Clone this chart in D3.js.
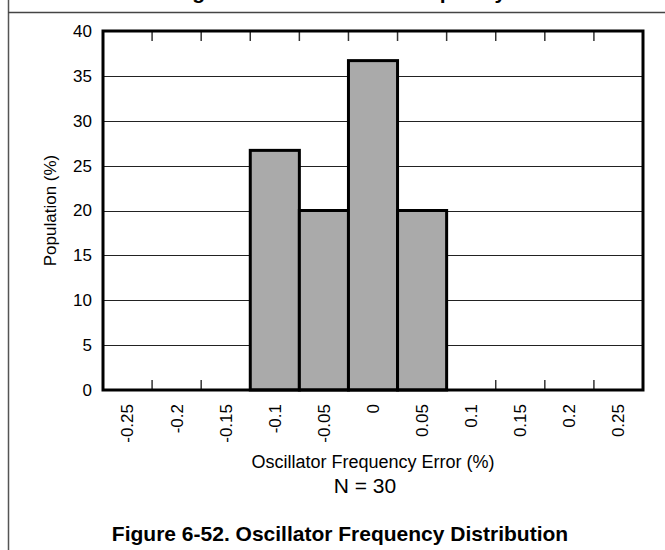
<!DOCTYPE html>
<html>
<head>
<meta charset="utf-8">
<script src="https://cdn.jsdelivr.net/npm/d3@7"></script>
<style>
  html, body { margin: 0; padding: 0; background: #fff; }
  svg { display: block; }
  text { font-family: "Liberation Sans", Arial, Helvetica, sans-serif; fill: #000; }
</style>
</head>
<body>
<svg id="chart" width="665" height="550"></svg>
<script>
// ---- data ----
const categories = ["-0.25", "-0.2", "-0.15", "-0.1", "-0.05", "0", "0.05", "0.1", "0.15", "0.2", "0.25"];
const population = [0, 0, 0, 26.7, 20, 36.7, 20, 0, 0, 0, 0];
const yTicks = [0, 5, 10, 15, 20, 25, 30, 35, 40];
const xTitle = "Oscillator Frequency Error (%)";
const yTitle = "Population (%)";
const note = "N = 30";
const caption = "Figure 6-52. Oscillator Frequency Distribution";
const prevCaption = "Figure 6-51. Oscillator Frequency";

// ---- layout ----
const svg = d3.select("#chart");
const plot = { left: 103, right: 643, top: 31, bottom: 390 };

const x = d3.scaleBand().domain(categories).range([plot.left, plot.right]).padding(0);
const y = d3.scaleLinear().domain([0, 40]).range([plot.bottom, plot.top]);

// outer frame lines (cell border)
svg.append("line").attr("x1", 8.5).attr("x2", 8.5).attr("y1", 0).attr("y2", 550)
  .attr("stroke", "#555").attr("stroke-width", 1.5);
svg.append("line").attr("x1", 8).attr("x2", 665).attr("y1", 12.5).attr("y2", 12.5)
  .attr("stroke", "#444").attr("stroke-width", 1.5);

// clipped previous caption (only descenders visible)
svg.append("text").attr("x", 340).attr("y", -1).attr("text-anchor", "middle")
  .style("font-size", "21px").style("font-weight", "bold").text(prevCaption);

// gridlines
svg.append("g").selectAll("line").data(yTicks.filter(d => d > 0 && d < 40)).join("line")
  .attr("x1", plot.left).attr("x2", plot.right)
  .attr("y1", d => Math.round(y(d)) + 0.5).attr("y2", d => Math.round(y(d)) + 0.5)
  .attr("stroke", "#222").attr("stroke-width", 1);

// x ticks at bin boundaries (top and bottom, inward)
const boundaries = categories.slice(1);
const tickG = svg.append("g");
tickG.selectAll("line.tb").data(boundaries).join("line").attr("class", "tb")
  .attr("x1", d => x(d)).attr("x2", d => x(d))
  .attr("y1", plot.bottom).attr("y2", plot.bottom - 10)
  .attr("stroke", "#333").attr("stroke-width", 1.5);
tickG.selectAll("line.tt").data(boundaries).join("line").attr("class", "tt")
  .attr("x1", d => x(d)).attr("x2", d => x(d))
  .attr("y1", plot.top).attr("y2", plot.top + 10)
  .attr("stroke", "#333").attr("stroke-width", 1.5);

// bars
svg.append("g").selectAll("rect").data(categories.map((c, i) => ({ c, v: population[i] })).filter(d => d.v > 0))
  .join("rect")
  .attr("x", d => x(d.c)).attr("width", x.bandwidth())
  .attr("y", d => y(d.v)).attr("height", d => y(0) - y(d.v))
  .attr("fill", "#aaaaaa").attr("stroke", "#000").attr("stroke-width", 3);

// plot frame
svg.append("rect").attr("x", plot.left).attr("y", plot.top)
  .attr("width", plot.right - plot.left).attr("height", plot.bottom - plot.top)
  .attr("fill", "none").attr("stroke", "#000").attr("stroke-width", 3);

// y axis labels
const yAxis = svg.append("g").attr("transform", `translate(${plot.left},0)`)
  .call(d3.axisLeft(y).tickValues(yTicks).tickSize(0).tickPadding(11).tickFormat(d3.format("d")));
yAxis.select(".domain").remove();
yAxis.selectAll("text").style("font-size", "17px")
  .style("font-family", "'Liberation Sans', Arial, sans-serif").attr("fill", "#000");

// x labels (rotated)
svg.append("g").selectAll("text").data(categories).join("text")
  .attr("transform", d => `translate(${x(d) + x.bandwidth() / 2},404) rotate(-90)`)
  .attr("text-anchor", "end").attr("dy", "0.35em")
  .style("font-size", "17px").text(d => d);

// axis titles
svg.append("text").attr("x", (plot.left + plot.right) / 2).attr("y", 468)
  .attr("text-anchor", "middle").style("font-size", "18px").text(xTitle);
svg.append("text").attr("transform", `translate(56,${(plot.top + plot.bottom) / 2}) rotate(-90)`)
  .attr("text-anchor", "middle").style("font-size", "17px").text(yTitle);

// N note
svg.append("text").attr("x", 365).attr("y", 493).attr("text-anchor", "middle")
  .style("font-size", "21px").text(note);

// caption
svg.append("text").attr("x", 340).attr("y", 541).attr("text-anchor", "middle")
  .style("font-size", "21px").style("font-weight", "bold").text(caption);
</script>
</body>
</html>
